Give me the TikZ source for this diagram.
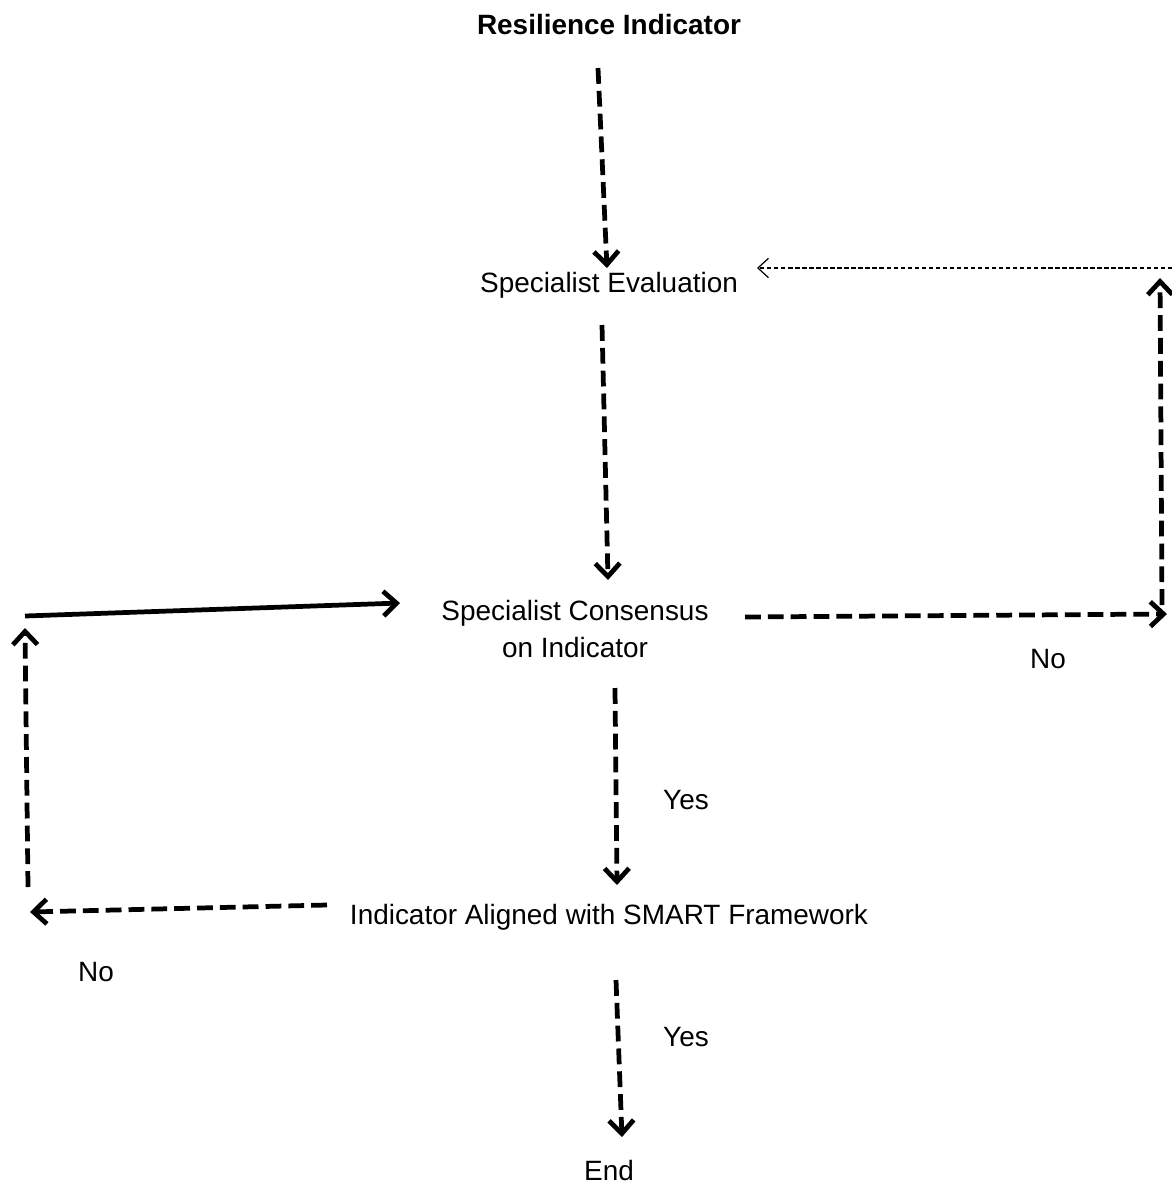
\documentclass[tikz,border=0pt]{standalone}
\usepackage{fontspec}
\setmainfont{Liberation Sans}
\usetikzlibrary{arrows.meta, positioning}
\newcommand{\boxfont}{\fontsize{15.9pt}{21pt}\selectfont}
\tikzstyle{heading} = [% title node
  inner sep=0pt,
  font=\boxfont\bfseries
  ]
\tikzstyle{stage} = [% flow stage node
  inner sep=0pt,
  align=center,
  font=\boxfont
  ]
\tikzstyle{answer} = [% yes / no label
  inner sep=0pt,
  font=\boxfont
  ]
\tikzstyle{flow} = [% dashed thick arrow
  line width=2.7pt,
  dash pattern=on 9pt off 4pt,
  -{Straight Barb[length=7.5pt,width=14pt]}
  ]
\tikzstyle{back} = [% thin dashed return arrow
  line width=0.7pt,
  dash pattern=on 2.5pt off 1.5pt,
  -{Straight Barb[length=6pt,width=11pt]}
  ]
\tikzstyle{solid arrow} = [% solid thick arrow
  line width=2.7pt,
  -{Straight Barb[length=7.5pt,width=14pt]}
  ]

\begin{document}
\begin{tikzpicture}[x=0.02cm, y=-0.02cm]
\useasboundingbox (0,0) rectangle (1172,1186);

%%% Nodes
\node[heading] (title) at (609,25) {Resilience Indicator};
\node[stage] (eval) at (609,285) {Specialist Evaluation};
\node[stage] (consensus) at (575,629) {Specialist Consensus\\on Indicator};
\node[stage] (smart) at (609,917) {Indicator Aligned with SMART Framework};
\node[stage] (end) at (609,1170) {End};

\node[answer] (noright) at (1048,659) {No};
\node[answer] (yesmid) at (686,800) {Yes};
\node[answer] (noleft) at (96,972) {No};
\node[answer] (yesend) at (686,1037) {Yes};

%%% Corners
\coordinate (rbot) at (1167,614);
\coordinate (rtop) at (1172,268);
\coordinate (lbot) at (30,912);
\coordinate (ltop) at (25,616);

%%% Arrows
\draw[flow] ([shift={(-11,43)}]title.center) -- ([shift={(-2,-17)}]eval.center);
\draw[flow] ([shift={(-7,40)}]eval.center) -- ([shift={(33,-49)}]consensus.center);
\draw[flow] ([shift={(40,59)}]consensus.center) -- ([shift={(8,-32)}]smart.center);
\draw[flow] ([shift={(7,63)}]smart.center) -- ([shift={(13,-33)}]end.center);

\draw[flow] ([shift={(170,-12)}]consensus.center) -- (rbot);
\draw[flow] ([shift={(-5,-9)}]rbot) -- ([shift={(-12,10)}]rtop);
\draw[back] (rtop) -- ([shift={(148,-17)}]eval.center);

\draw[flow] ([shift={(-282,-12)}]smart.center) -- (lbot);
\draw[flow] ([shift={(-2,-25)}]lbot) -- ([shift={(0,12)}]ltop);
\draw[solid arrow] (ltop) -- ([shift={(-175,-26)}]consensus.center);

\end{tikzpicture}
\end{document}
